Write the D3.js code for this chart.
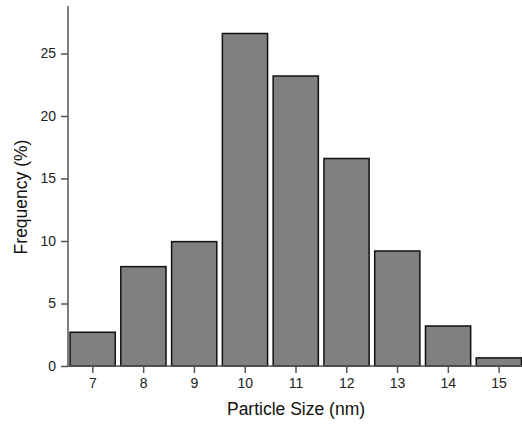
<!DOCTYPE html>
<html><head><meta charset="utf-8">
<script src="https://cdn.jsdelivr.net/npm/d3@7"></script>
<style>body{margin:0;background:#fff}</style>
</head><body>
<svg id="c" width="522" height="429"></svg>
<script>
const sizes = [7, 8, 9, 10, 11, 12, 13, 14, 15];
const frequency = [2.7, 7.95, 9.95, 26.6, 23.2, 16.6, 9.2, 3.2, 0.65];
const yTicks = [0, 5, 10, 15, 20, 25];
const xTicks = [7, 8, 9, 10, 11, 12, 13, 14, 15];

const svg = d3.select("#c");
const x = d3.scaleLinear().domain([6.52, 15.5]).range([68, 524]);
const y = d3.scaleLinear().domain([0, 28.8]).range([366, 6]);
const axisColor = "#555";
const font = "Liberation Sans, Arial, sans-serif";

// bars
svg.append("g").selectAll("rect").data(sizes).join("rect")
  .attr("x", (d) => x(d - 0.44))
  .attr("width", (d) => x(d + 0.45) - x(d - 0.44))
  .attr("y", (d, i) => y(frequency[i]))
  .attr("height", (d, i) => y(0) - y(frequency[i]))
  .attr("fill", "#808080")
  .attr("stroke", "#111")
  .attr("stroke-width", 1.5);

// y axis
const yMinor = d3.range(2.5, 28.8, 5);
const gy = svg.append("g").attr("transform", "translate(68,0)");
gy.call(d3.axisLeft(y).tickValues(yMinor).tickSize(4).tickFormat(""));
gy.call(d3.axisLeft(y).tickValues(yTicks).tickSize(7).tickPadding(5).tickFormat(d3.format("d")));
gy.selectAll("path.domain").attr("d", `M0,${y(28.8)}V${y(0)}`);
gy.selectAll("path,line").attr("stroke", axisColor).attr("stroke-width", 1.5);
gy.selectAll("text").attr("font-family", font).attr("font-size", 14).attr("fill", "#222");

// x axis
const xMinor = d3.range(7.5, 15.5, 1);
const gx = svg.append("g").attr("transform", "translate(0,366)");
gx.call(d3.axisBottom(x).tickValues(xMinor).tickSize(4).tickFormat(""));
gx.call(d3.axisBottom(x).tickValues(xTicks).tickSize(7).tickPadding(5).tickFormat(d3.format("d")));
gx.selectAll("path.domain").attr("d", `M${x(6.52)},0H${x(15.5)}`);
gx.selectAll("path,line").attr("stroke", axisColor).attr("stroke-width", 1.5);
gx.selectAll("text").attr("font-family", font).attr("font-size", 14).attr("fill", "#222");

// titles
svg.append("text").attr("x", 296).attr("y", 415).attr("text-anchor", "middle")
  .attr("font-family", font).attr("font-size", 17.5).attr("fill", "#111").text("Particle Size (nm)");
svg.append("text").attr("transform", "translate(27,197) rotate(-90)").attr("text-anchor", "middle")
  .attr("font-family", font).attr("font-size", 17.5).attr("fill", "#111").text("Frequency (%)");
</script>
</body></html>
